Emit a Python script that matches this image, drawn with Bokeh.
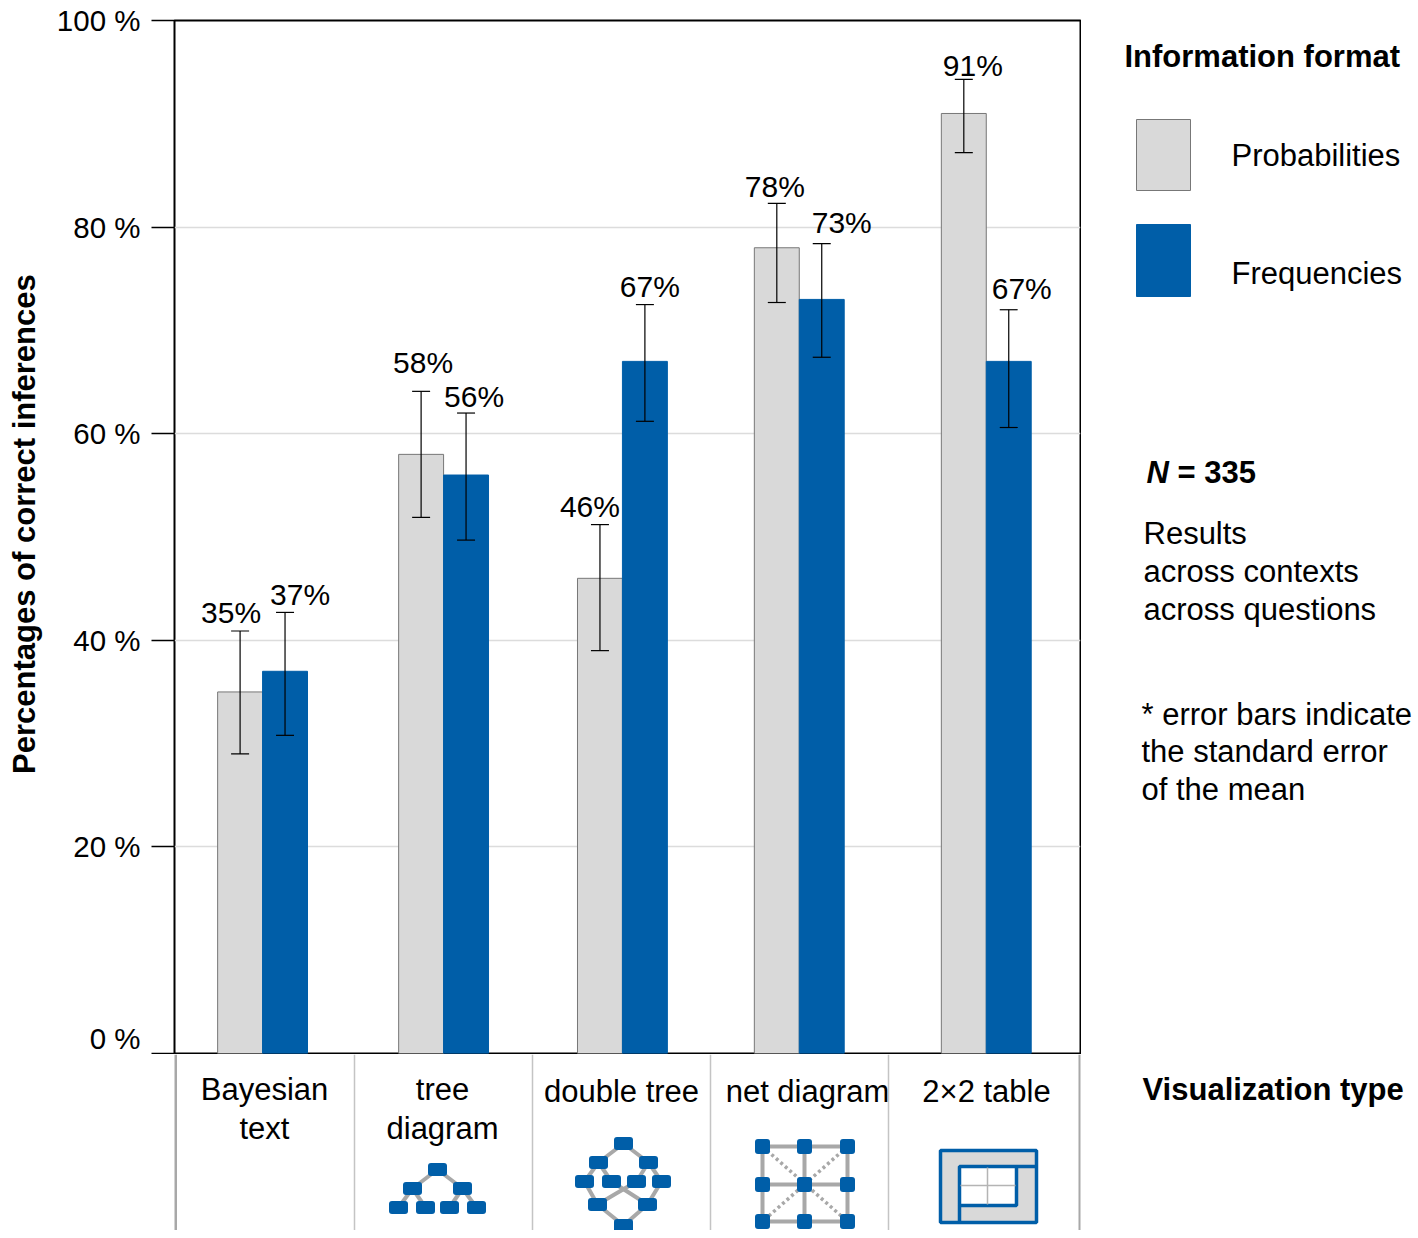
from bokeh.plotting import figure
from bokeh.embed import file_html
from bokeh.resources import INLINE
from bokeh.layouts import column, row
from bokeh.models import ColumnDataSource, FixedTicker, Range1d, TeeHead, Whisker

FONT = "Liberation Sans"
BLUE = "#005ea8"
LIGHT = "#d9d9d9"
EDGE = "#a8a8a8"
BAR_EDGE = "#777777"

categories = ["Bayesian\ntext", "tree\ndiagram", "double tree", "net diagram", "2×2 table"]
series_names = ["Probabilities", "Frequencies"]
probabilities = [35, 58, 46, 78, 91]
frequencies = [37, 56, 67, 73, 67]
prob_upper = [40.9, 64.1, 51.2, 82.3, 94.3]
prob_lower = [29.0, 51.9, 39.0, 72.7, 87.2]
freq_upper = [42.7, 62.0, 72.5, 78.4, 72.0]
freq_lower = [30.8, 49.7, 61.2, 67.4, 60.6]
y_ticks = [0, 20, 40, 60, 80, 100]

# group layout in x axis units (groups are not evenly spaced in the original)
group_centers = [0.486, 1.485, 2.472, 3.448, 4.480]
bar_width = 0.248
prob_label_dx = [-9, 2, -10, -2, 9]
prob_label_dy = [-19, -29, -18, -17, -14]
freq_label_dx = [15, 8, 5, 20, 13]
freq_label_dy = [-18, -17, -18, -21, -21]

MAIN_H = 1054
p = figure(width=1081, height=MAIN_H,
           x_range=Range1d(0, 5), y_range=Range1d(0, 100),
           output_backend="svg", toolbar_location=None, tools="",
           min_border_left=174, min_border_right=1, min_border_top=20, min_border_bottom=1)
p.xaxis.visible = False
p.xgrid.visible = False
p.ygrid.grid_line_color = "#dcdcdc"
p.ygrid.grid_line_width = 1.5
p.outline_line_color = "black"
p.outline_line_width = 2

yaxis = p.yaxis[0]
yaxis.ticker = FixedTicker(ticks=y_ticks)
yaxis.major_label_overrides = {t: f"{t} %" for t in y_ticks}
# the lowest tick label sits above its tick in the original
yaxis.major_label_overrides[0] = "0 %\n "
yaxis.major_label_text_line_height = 0
yaxis.major_label_text_font = FONT
yaxis.major_label_text_font_size = "29.5px"
yaxis.major_label_text_color = "black"
yaxis.major_label_standoff = 11
yaxis.major_tick_out = 23
yaxis.major_tick_in = 0
yaxis.major_tick_line_color = "black"
yaxis.major_tick_line_width = 1.5
yaxis.minor_tick_line_color = None
yaxis.axis_line_color = None
yaxis.axis_label = "\u00a0\u00a0\u00a0Percentages of correct inferences"
yaxis.axis_label_text_font = FONT
yaxis.axis_label_text_font_style = "bold"
yaxis.axis_label_text_font_size = "31px"
yaxis.axis_label_text_color = "black"
yaxis.axis_label_standoff = 12

prob_x = [c - bar_width / 2 for c in group_centers]
freq_x = [c + bar_width / 2 for c in group_centers]

p.vbar(x=prob_x, top=probabilities, width=bar_width, bottom=0,
       fill_color=LIGHT, line_color=BAR_EDGE, line_width=1)
p.vbar(x=freq_x, top=frequencies, width=bar_width, bottom=0,
       fill_color=BLUE, line_color=BLUE, line_width=1)

for xs, up, low in [(prob_x, prob_upper, prob_lower), (freq_x, freq_upper, freq_lower)]:
    src = ColumnDataSource(dict(x=xs, up=up, low=low))
    p.add_layout(Whisker(source=src, base="x", upper="up", lower="low", level="overlay",
                         line_color="black", line_width=1.2,
                         upper_head=TeeHead(size=18, line_width=1.2, line_color="black"),
                         lower_head=TeeHead(size=18, line_width=1.2, line_color="black")))

for xs, vals, up, dx, dy in [(prob_x, probabilities, prob_upper, prob_label_dx, prob_label_dy),
                             (freq_x, frequencies, freq_upper, freq_label_dx, freq_label_dy)]:
    src = ColumnDataSource(dict(x=xs, y=up, t=[f"{v}%" for v in vals], dx=dx, dy=dy))
    p.text(x="x", y="y", text="t", x_offset="dx", y_offset="dy", source=src,
           text_font={"value": FONT}, text_font_size={"value": "30px"}, text_color="black",
           text_align="center", text_baseline="middle")

# lower strip: category names, separators and the little format icons
STRIP_H = 176
strip = figure(width=1081, height=STRIP_H,
               x_range=Range1d(174, 1080), y_range=Range1d(1230, 1054),
               output_backend="svg", toolbar_location=None, tools="",
               min_border_left=174, min_border_right=1, min_border_top=0, min_border_bottom=0)
strip.axis.visible = False
strip.grid.visible = False
strip.outline_line_color = None

label_x = [264, 442, 621, 807, 986]
label_y = [1071, 1071, 1073, 1073, 1073]
strip.text(x=label_x, y=label_y, text=categories, text_font={"value": FONT},
           text_font_size={"value": "31px"}, text_color="black", text_align="center",
           text_baseline="top", text_line_height=1.13)

separators = [354, 532, 710, 888]
strip.segment(x0=separators, x1=separators, y0=[1054] * 4, y1=[1230] * 4, line_color="#c4c4c4", line_width=1.5)
strip.segment(x0=[175, 1079.5], x1=[175, 1079.5], y0=[1054] * 2, y1=[1230] * 2, line_color=EDGE, line_width=3)

GRAY_LINK = "#a8a8a8"


def nodes(fig, pts, w, h, radius):
    fig.quad(left=[x - w / 2 for x, _ in pts], right=[x + w / 2 for x, _ in pts],
             top=[y - h / 2 for _, y in pts], bottom=[y + h / 2 for _, y in pts],
             fill_color=BLUE, line_color=None, border_radius=radius)


def links(fig, pairs, width=4, dash="solid"):
    fig.segment(x0=[a[0] for a, _ in pairs], y0=[a[1] for a, _ in pairs],
                x1=[b[0] for _, b in pairs], y1=[b[1] for _, b in pairs],
                line_color=GRAY_LINK, line_width=width, line_dash=dash)


# tree
t0 = (437, 1169)
t1, t2 = (412, 1188), (462, 1188)
t3, t4, t5, t6 = (398, 1207), (425, 1207), (449, 1207), (476, 1207)
links(strip, [(t0, t1), (t0, t2), (t1, t3), (t1, t4), (t2, t5), (t2, t6)])
nodes(strip, [t0, t1, t2, t3, t4, t5, t6], 19, 13, 3)

# double tree
d0 = (623, 1143)
d1, d2 = (598, 1162), (648, 1162)
d3, d4, d5, d6 = (584, 1181), (611, 1181), (636, 1181), (661, 1181)
d7, d8 = (597, 1204), (647, 1204)
d9 = (623, 1225)
links(strip, [(d0, d1), (d0, d2), (d1, d3), (d1, d4), (d2, d5), (d2, d6), (d3, d7), (d6, d8),
              (d4, d8), (d5, d7), (d7, d9), (d8, d9)])
nodes(strip, [d0, d1, d2, d3, d4, d5, d6, d7, d8, d9], 19, 13, 3)

# net diagram
net_x = [762, 804, 847]
net_y = [1146, 1184, 1221]
grid_pts = [(x, y) for y in net_y for x in net_x]
links(strip, [((net_x[0], y), (net_x[2], y)) for y in net_y] + [((x, net_y[0]), (x, net_y[2])) for x in net_x])
links(strip, [((net_x[0], net_y[0]), (net_x[2], net_y[2])), ((net_x[2], net_y[0]), (net_x[0], net_y[2]))],
      width=3.5, dash="3 3")
nodes(strip, grid_pts, 15, 15, 3)

# 2x2 table
strip.quad(left=[940], right=[1036], top=[1150], bottom=[1222], fill_color=LIGHT, line_color=BLUE, line_width=3.5)
strip.quad(left=[959], right=[1016], top=[1166], bottom=[1205], fill_color="white", line_color=BLUE, line_width=3.5)
strip.segment(x0=[1016, 959], y0=[1166, 1205], x1=[1036, 959], y1=[1166, 1222], line_color=BLUE, line_width=3.5)
strip.segment(x0=[960, 987], y0=[1185, 1167], x1=[1015, 987], y1=[1185, 1204], line_color="#b4b4b4", line_width=1.5)

# right hand panel: legend and notes, in page pixels
PANEL_H = 1230
panel = figure(width=337, height=PANEL_H, x_range=Range1d(1081, 1418), y_range=Range1d(PANEL_H, 0),
               output_backend="svg", toolbar_location=None, tools="",
               min_border_left=0, min_border_right=0, min_border_top=0, min_border_bottom=0)
panel.axis.visible = False
panel.grid.visible = False
panel.outline_line_color = None

# legend swatches: the labels do not sit centred on them in the original
panel.quad(left=[1136], right=[1190], top=[119], bottom=[190], fill_color=LIGHT, line_color=BAR_EDGE, line_width=1)
panel.quad(left=[1136], right=[1190], top=[224], bottom=[296], fill_color=BLUE, line_color=BLUE, line_width=1)

notes = [("Information format", 1124, 56, "bold"),
         (series_names[0], 1231, 155, "normal"),
         (series_names[1], 1231, 273, "normal"),
         ("N", 1146, 472, "bold italic"),
         ("= 335", 1177, 472, "bold"),
         ("Results", 1143, 533, "normal"),
         ("across contexts", 1143, 571, "normal"),
         ("across questions", 1143, 609, "normal"),
         ("* error bars indicate", 1141, 714, "normal"),
         ("the standard error", 1141, 751, "normal"),
         ("of the mean", 1141, 789, "normal"),
         ("Visualization type", 1142, 1089, "bold")]
for text, x, y, style in notes:
    panel.text(x=[x], y=[y], text=[text], text_font={"value": FONT}, text_font_size={"value": "31px"},
               text_font_style=style, text_color="black", text_baseline="middle")

layout = row(column(p, strip, spacing=0), panel, spacing=0)
open("out.html", "w").write(file_html(layout, INLINE))
